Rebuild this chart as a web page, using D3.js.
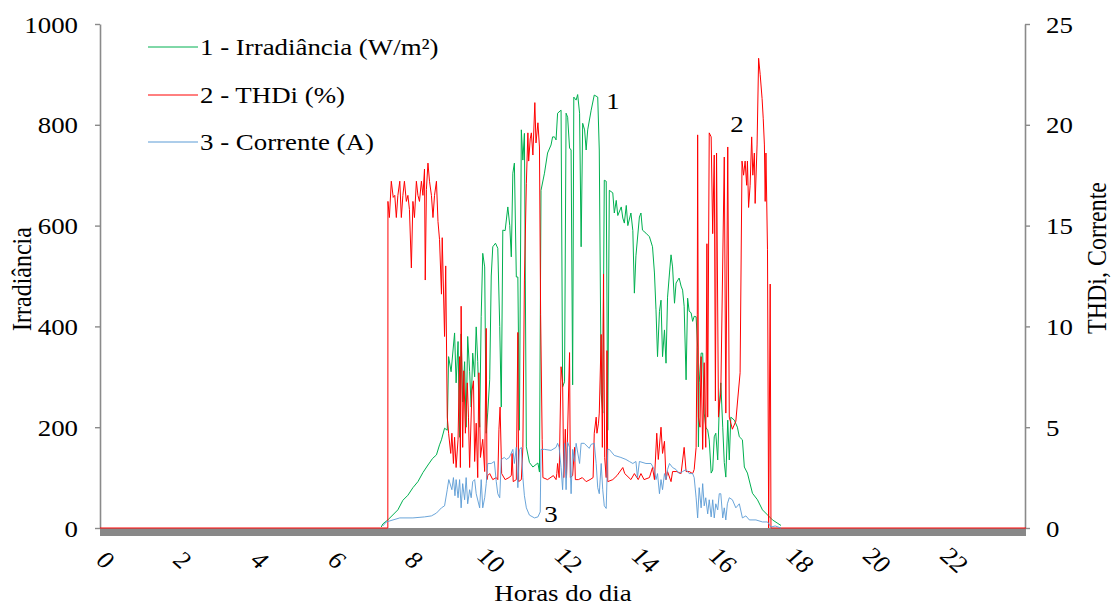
<!DOCTYPE html>
<html><head><meta charset="utf-8">
<script src="https://cdn.jsdelivr.net/npm/d3@7"></script>
<style>
body{margin:0;background:#fff}
text{font-family:"Liberation Serif","Times New Roman",serif;fill:#000}
</style>
</head><body><svg id="c" width="1111" height="608"></svg>
<script>
// ---- DATA (hour of day, value) ----
const irradiance = [[7.29,2],[7.33,8],[7.46,16],[7.72,36],[7.85,55],[7.98,65],[8.11,80],[8.24,92],[8.37,110],[8.5,125],[8.62,138],[8.72,145],[8.8,165],[8.85,175],[8.93,198],[9.0,194],[9.035,340],[9.1,310],[9.19,387],[9.23,288],[9.28,370],[9.32,180],[9.36,385],[9.4,250],[9.45,330],[9.49,200],[9.53,380],[9.58,310],[9.62,240],[9.66,347],[9.71,300],[9.75,399],[9.79,330],[9.84,200],[9.88,420],[9.92,545],[9.97,518],[10.01,188],[10.05,230],[10.1,294],[10.14,500],[10.18,558],[10.25,565],[10.31,555],[10.36,400],[10.4,240],[10.44,591],[10.5,590],[10.57,637],[10.62,600],[10.66,538],[10.7,704],[10.74,724],[10.79,498],[10.83,498],[10.87,194],[10.92,790],[10.96,730],[11.0,783],[11.05,161],[11.13,130],[11.22,121],[11.35,129],[11.39,111],[11.43,670],[11.52,704],[11.6,744],[11.69,760],[11.73,776],[11.78,776],[11.82,770],[11.86,823],[11.95,829],[11.99,280],[12.04,290],[12.08,823],[12.12,815],[12.17,754],[12.21,750],[12.25,284],[12.28,855],[12.34,849],[12.38,860],[12.43,823],[12.47,558],[12.51,803],[12.56,790],[12.6,750],[12.64,790],[12.73,829],[12.81,859],[12.9,855],[12.94,750],[12.99,268],[13.03,228],[13.07,690],[13.12,688],[13.16,194],[13.2,670],[13.29,665],[13.33,625],[13.38,650],[13.42,620],[13.51,637],[13.55,615],[13.59,605],[13.64,640],[13.68,600],[13.76,625],[13.81,590],[13.85,466],[13.89,540],[13.98,617],[14.02,625],[14.06,591],[14.15,585],[14.24,578],[14.32,558],[14.37,506],[14.41,433],[14.45,340],[14.5,430],[14.54,452],[14.58,340],[14.63,393],[14.67,327],[14.71,458],[14.76,506],[14.8,542],[14.84,518],[14.89,446],[14.93,486],[15.01,496],[15.06,480],[15.1,472],[15.14,440],[15.19,294],[15.23,456],[15.27,430],[15.32,427],[15.36,410],[15.4,420],[15.45,419],[15.49,359],[15.51,161],[15.53,288],[15.58,347],[15.62,347],[15.66,228],[15.7,200],[15.75,194],[15.79,175],[15.84,109],[15.88,115],[15.92,181],[15.96,188],[16.01,135],[16.05,240],[16.09,288],[16.14,200],[16.18,130],[16.22,101],[16.27,214],[16.31,135],[16.35,220],[16.44,214],[16.52,200],[16.57,181],[16.65,175],[16.7,121],[16.78,109],[16.91,69],[17.04,56],[17.17,36],[17.3,26],[17.43,16],[17.55,10],[17.65,5]];

const thdi = [[0,0],[7.46,0],[7.463,16.2],[7.5,15.4],[7.55,17.2],[7.6,16.4],[7.64,16.5],[7.68,15.4],[7.72,16.5],[7.77,17.2],[7.81,15.4],[7.85,16.5],[7.89,17.2],[7.94,16.2],[7.98,16.5],[8.02,15.8],[8.07,12.9],[8.11,16.2],[8.15,15.4],[8.2,17.2],[8.24,16.5],[8.28,16.2],[8.33,17.2],[8.37,16.5],[8.41,17.8],[8.43,12.3],[8.46,16.8],[8.5,18.1],[8.54,17.2],[8.59,16.5],[8.63,15.4],[8.67,16.5],[8.72,17.2],[8.76,15.2],[8.8,14.3],[8.85,11.6],[8.87,14.4],[8.93,9.5],[8.96,13.0],[9.0,5.5],[9.035,4.7],[9.09,3.7],[9.12,4.7],[9.16,3.2],[9.19,4.5],[9.23,3.0],[9.28,4.4],[9.32,8.5],[9.34,3.0],[9.36,11.0],[9.4,4.0],[9.43,7.8],[9.47,4.7],[9.52,7.2],[9.55,5.5],[9.58,3.0],[9.64,6.8],[9.68,7.3],[9.71,3.3],[9.75,5.2],[9.79,2.5],[9.82,7.7],[9.86,3.5],[9.92,4.4],[9.97,2.8],[10.01,9.9],[10.03,2.4],[10.05,2.6],[10.1,2.7],[10.18,2.4],[10.27,2.5],[10.31,2.4],[10.34,4.9],[10.37,6.0],[10.41,2.7],[10.5,2.4],[10.6,2.5],[10.66,2.6],[10.68,3.7],[10.71,2.3],[10.79,2.4],[10.83,9.7],[10.85,2.3],[10.92,2.4],[10.96,4.0],[11.0,12.3],[11.05,17.1],[11.09,19.6],[11.11,18.2],[11.15,19.3],[11.18,19.6],[11.22,18.5],[11.27,21.1],[11.3,19.1],[11.35,20.1],[11.39,18.9],[11.42,10.6],[11.46,4.4],[11.48,2.5],[11.6,2.4],[11.75,2.6],[11.82,2.4],[11.84,2.7],[11.86,3.2],[11.9,2.5],[11.95,8.0],[11.99,7.2],[12.02,2.5],[12.06,4.9],[12.09,2.5],[12.17,8.7],[12.19,2.5],[12.25,2.6],[12.3,4.0],[12.32,2.4],[12.4,2.4],[12.5,2.5],[12.6,2.3],[12.7,2.4],[12.78,2.5],[12.81,4.7],[12.86,5.5],[12.88,4.7],[12.92,5.2],[12.94,5.7],[12.99,9.6],[13.02,4.0],[13.05,12.6],[13.08,3.5],[13.12,2.5],[13.14,8.8],[13.16,2.3],[13.29,2.4],[13.4,2.6],[13.55,3.0],[13.6,2.7],[13.76,2.4],[13.85,2.7],[13.95,2.4],[14.02,2.7],[14.1,2.4],[14.24,2.5],[14.32,3.0],[14.37,2.4],[14.43,4.7],[14.47,3.4],[14.54,5.0],[14.58,3.7],[14.63,4.3],[14.67,2.4],[14.71,2.8],[14.8,2.3],[14.84,2.8],[14.95,2.8],[15.06,2.7],[15.14,4.0],[15.19,2.8],[15.27,2.8],[15.36,2.7],[15.4,2.9],[15.45,4.0],[15.48,10.6],[15.49,19.5],[15.51,5.5],[15.55,5.0],[15.58,8.5],[15.62,3.9],[15.66,8.2],[15.7,4.0],[15.73,14.1],[15.75,5.5],[15.79,19.6],[15.84,19.4],[15.88,14.6],[15.92,18.5],[15.95,6.3],[15.98,18.6],[16.03,5.5],[16.05,6.0],[16.09,6.7],[16.18,18.4],[16.22,5.7],[16.27,18.9],[16.31,5.5],[16.39,4.9],[16.48,5.3],[16.52,6.2],[16.59,7.7],[16.64,18.2],[16.68,17.5],[16.72,18.2],[16.76,17.0],[16.78,18.2],[16.81,15.9],[16.85,17.0],[16.89,19.4],[16.92,17.5],[16.96,18.6],[16.98,16.1],[17.03,19.0],[17.07,23.3],[17.11,22.5],[17.16,21.3],[17.19,20.3],[17.22,19.0],[17.24,16.2],[17.26,18.6],[17.3,13.8],[17.33,0],[17.37,12.1],[17.39,0],[24,0]];

const corrente = [[7.33,0.1],[7.42,0.3],[7.77,0.5],[8.11,0.5],[8.41,0.55],[8.59,0.6],[8.72,0.74],[8.85,1.0],[8.93,1.1],[9.0,1.9],[9.04,2.4],[9.12,1.9],[9.16,2.5],[9.2,1.6],[9.23,2.4],[9.28,1.5],[9.32,2.4],[9.36,1.0],[9.4,2.2],[9.45,1.4],[9.49,2.5],[9.53,1.2],[9.58,1.9],[9.62,1.5],[9.66,2.3],[9.71,2.4],[9.75,1.7],[9.84,1.0],[9.88,2.4],[9.92,1.0],[9.97,1.5],[10.01,2.2],[10.05,3.2],[10.14,3.2],[10.22,3.3],[10.27,2.3],[10.31,1.7],[10.36,1.5],[10.4,3.4],[10.48,3.5],[10.53,3.4],[10.61,3.5],[10.7,3.9],[10.74,3.2],[10.79,4.0],[10.83,2.0],[10.87,3.9],[10.92,4.0],[10.96,2.5],[11.0,1.6],[11.05,1.0],[11.13,0.64],[11.26,0.5],[11.35,0.55],[11.41,0.8],[11.43,3.9],[11.52,3.9],[11.69,3.85],[11.82,4.0],[11.86,4.2],[11.9,4.0],[11.95,3.0],[11.99,1.9],[12.04,4.2],[12.08,1.9],[12.12,4.25],[12.17,4.0],[12.21,1.7],[12.25,3.9],[12.3,3.3],[12.34,4.2],[12.43,3.2],[12.47,4.2],[12.55,4.2],[12.68,3.95],[12.73,4.15],[12.81,4.2],[12.86,3.2],[12.9,2.0],[12.94,1.7],[12.99,3.2],[13.03,1.9],[13.07,1.1],[13.12,0.97],[13.16,3.9],[13.2,3.9],[13.33,3.6],[13.5,3.5],[13.63,3.4],[13.72,3.3],[13.81,3.2],[13.89,3.3],[13.93,2.5],[13.98,3.3],[14.15,3.2],[14.28,3.2],[14.37,2.9],[14.41,2.4],[14.45,2.7],[14.5,1.7],[14.54,2.4],[14.58,1.9],[14.63,2.7],[14.67,2.4],[14.71,2.9],[14.76,3.2],[14.84,3.0],[14.93,2.9],[15.01,2.7],[15.1,2.8],[15.19,2.9],[15.27,2.7],[15.36,2.7],[15.4,2.5],[15.45,1.5],[15.49,0.5],[15.53,2.0],[15.58,1.0],[15.62,2.2],[15.66,1.1],[15.7,1.5],[15.75,0.7],[15.79,1.4],[15.84,0.55],[15.88,1.4],[15.92,0.5],[15.96,1.2],[16.01,0.9],[16.05,1.7],[16.09,1.7],[16.14,0.5],[16.18,1.0],[16.22,0.4],[16.26,1.2],[16.31,1.5],[16.39,1.4],[16.48,1.0],[16.57,1.2],[16.65,0.5],[16.74,0.6],[16.83,0.4],[17.0,0.4],[17.17,0.3],[17.3,0.3],[17.39,0.05],[17.5,0.1],[17.65,0]];

const xTicks = [0,2,4,6,8,10,12,14,16,18,20,22];
const leftTicks = [0,200,400,600,800,1000];
const rightTicks = [0,5,10,15,20,25];
const legendLabels = ["1 - Irradiância (W/m²)","2 - THDi (%)","3 - Corrente (A)"];
const seriesLabels = ["1","2","3"];

// ---- DRAW ----
const SX = 1.12, FS = 24;
const fmt = d3.format("d");
const svg = d3.select("#c");
svg.append("rect").attr("width",1111).attr("height",608).attr("fill","#fff");

const x = d3.scaleLinear().domain([0,24]).range([100,1026]);
const yL = d3.scaleLinear().domain([0,1000]).range([528,24]);
const yR = d3.scaleLinear().domain([0,25]).range([528,24]);

const colors = ["#00B050","#FF0000","#5B9BD5"];
const axisColor = "#8a8a8a";

// floor band
svg.append("rect").attr("x",x(0)).attr("y",528).attr("width",x(24)-x(0)).attr("height",8).attr("fill","#888");

// left axis
const gL = svg.append("g").attr("transform","translate(100,0)")
  .call(d3.axisLeft(yL).tickValues(leftTicks).tickSize(5).tickSizeOuter(0).tickFormat(fmt));
gL.select(".domain").attr("stroke",axisColor).attr("stroke-width",1.6);
gL.selectAll(".tick line").attr("stroke",axisColor).attr("stroke-width",1.4);
gL.selectAll(".tick text").attr("x",0).attr("dy",null).attr("dominant-baseline","central")
  .attr("text-anchor","end").attr("font-size",FS).attr("font-family",null)
  .attr("transform",`translate(-22,0) scale(${SX},1)`);

// right axis
const gR = svg.append("g").attr("transform","translate(1025,0)")
  .call(d3.axisRight(yR).tickValues(rightTicks).tickSize(5).tickSizeOuter(0).tickFormat(fmt));
gR.select(".domain").attr("stroke",axisColor).attr("stroke-width",1.6);
gR.selectAll(".tick line").attr("stroke",axisColor).attr("stroke-width",1.4);
gR.selectAll(".tick text").attr("x",0).attr("dy",null).attr("dominant-baseline","central")
  .attr("text-anchor","start").attr("font-size",FS).attr("font-family",null)
  .attr("transform",`translate(21,0) scale(${SX},1)`);

// x axis labels
const gX = svg.append("g").attr("transform","translate(0,536)")
  .call(d3.axisBottom(x).tickValues(xTicks).tickSize(0).tickFormat(fmt));
gX.select(".domain").remove();
gX.selectAll(".tick text").attr("y",null).attr("dy",null).attr("dominant-baseline","central")
  .attr("text-anchor","middle").attr("font-size",FS).attr("font-family",null)
  .attr("transform",`translate(5,24) scale(${SX},1) rotate(45)`);

// lines
const line = (ys) => d3.line().x(d=>x(d[0])).y(d=>ys(d[1]));
svg.append("path").datum(irradiance).attr("d",line(yL)).attr("fill","none")
  .attr("stroke",colors[0]).attr("stroke-width",1).attr("stroke-linejoin","round");
svg.append("path").datum(thdi).attr("d",line(yR)).attr("fill","none")
  .attr("stroke",colors[1]).attr("stroke-width",1).attr("stroke-linejoin","round");
svg.append("path").datum(corrente).attr("d",line(yR)).attr("fill","none")
  .attr("stroke",colors[2]).attr("stroke-width",1).attr("stroke-opacity",0.9).attr("stroke-linejoin","round");

// axis titles
svg.append("text").attr("transform",`translate(${(x(0)+x(24))/2},601) scale(${SX},1)`)
  .attr("text-anchor","middle").attr("font-size",FS).text("Horas do dia");
svg.append("text").attr("transform",`translate(31,279) scale(${SX},1) rotate(-90)`)
  .attr("text-anchor","middle").attr("font-size",FS).text("Irradiância");
svg.append("text").attr("transform",`translate(1106,258) scale(${SX},1) rotate(-90)`)
  .attr("text-anchor","middle").attr("font-size",FS).text("THDi, Corrente");

// legend
const legY = [47,95,142];
legendLabels.forEach((t,i)=>{
  svg.append("line").attr("x1",148).attr("x2",198).attr("y1",legY[i]).attr("y2",legY[i])
    .attr("stroke",colors[i]).attr("stroke-width",1);
  svg.append("text").attr("transform",`translate(200,${legY[i]}) scale(${SX},1)`)
    .attr("dominant-baseline","central").attr("font-size",FS).text(t);
});

// series number labels
[[613,101],[737,124],[551,514]].forEach((p,i)=>{
  svg.append("text").attr("transform",`translate(${p[0]},${p[1]}) scale(${SX},1)`)
    .attr("text-anchor","middle").attr("dominant-baseline","central").attr("font-size",FS).text(seriesLabels[i]);
});
</script>
</body></html>
